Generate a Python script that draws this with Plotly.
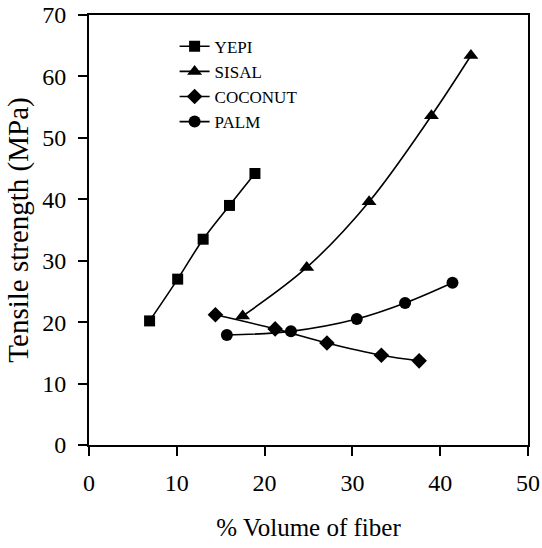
import plotly.graph_objects as go

yepi_x = [6.9, 10.1, 13.0, 16.0, 18.9]
yepi_y = [20.2, 27.0, 33.5, 39.0, 44.2]

sisal_x = [17.5, 24.8, 31.9, 39.0, 43.5]
sisal_y = [21.0, 28.9, 39.6, 53.6, 63.4]

coconut_x = [14.4, 21.2, 27.1, 33.3, 37.6]
coconut_y = [21.2, 18.9, 16.6, 14.6, 13.7]

palm_x = [15.7, 23.0, 30.5, 36.0, 41.4]
palm_y = [17.9, 18.5, 20.5, 23.1, 26.4]

series = [
    ("YEPI", yepi_x, yepi_y, "square", 11),
    ("SISAL", sisal_x, sisal_y, "triangle-up", 13),
    ("COCONUT", coconut_x, coconut_y, "diamond", 12),
    ("PALM", palm_x, palm_y, "circle", 12),
]

FONT = "Liberation Serif"

fig = go.Figure()
for name, xs, ys, sym, sz in series:
    fig.add_trace(go.Scatter(
        x=xs, y=ys, name=name, mode="lines+markers",
        line=dict(color="black", width=1.6, shape="spline", smoothing=1),
        marker=dict(symbol=sym, size=sz, color="black"),
    ))

axis_common = dict(
    showline=True, linecolor="black", linewidth=2, mirror=True,
    ticks="outside", ticklen=9, tickwidth=2, tickcolor="black",
    showgrid=False, zeroline=False, automargin=False,
    tickfont=dict(family=FONT, size=24, color="black"),
)

fig.update_layout(
    width=542, height=548,
    margin=dict(l=89, r=14, t=15, b=103),
    paper_bgcolor="white", plot_bgcolor="white",
    font=dict(family=FONT, color="black"),
    xaxis=dict(range=[0, 50], tickvals=[0, 10, 20, 30, 40, 50],
               title=dict(text="% Volume of fiber", font=dict(family=FONT, size=25), standoff=24),
               ticklabelstandoff=6, **axis_common),
    yaxis=dict(range=[0, 70], tickvals=[0, 10, 20, 30, 40, 50, 60, 70],
               title=dict(text="Tensile strength (MPa)\u00a0\u00a0\u00a0",
                          font=dict(family=FONT, size=29), standoff=5),
               ticklabelstandoff=7, **axis_common),
    legend=dict(x=0.195, y=0.968, xanchor="left", yanchor="top",
                bgcolor="rgba(0,0,0,0)", font=dict(family=FONT, size=17, color="black"),
                tracegroupgap=0, itemwidth=30),
    showlegend=True,
)

fig.write_html("out.html", config={"displayModeBar": False},
               post_script="document.body.style.margin='0px';")
